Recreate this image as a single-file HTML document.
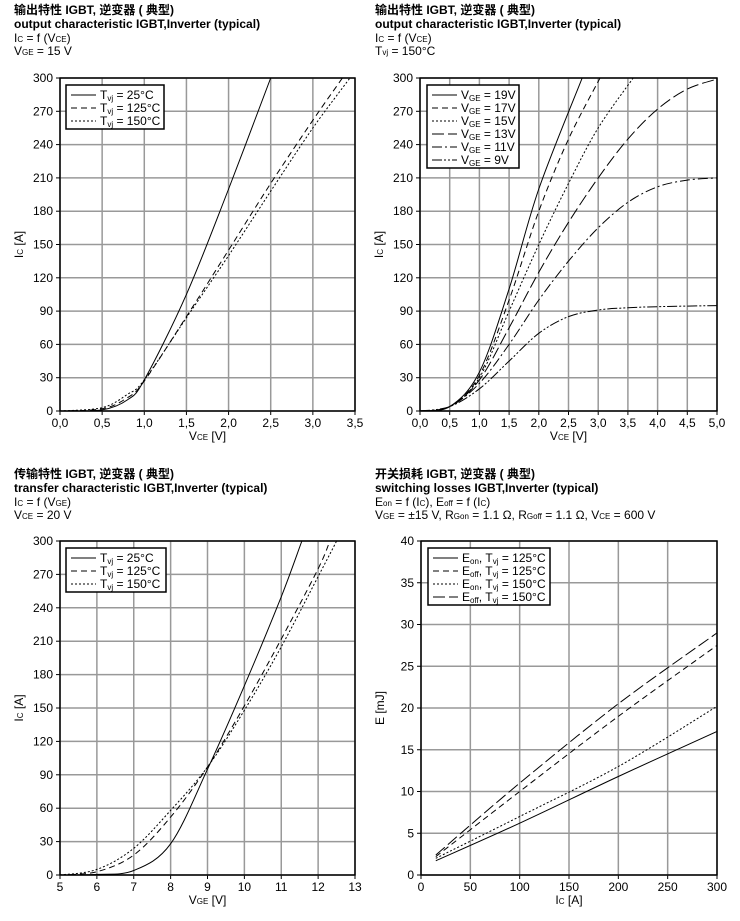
<!DOCTYPE html><html><head><meta charset="utf-8"><style>
body{margin:0;background:#fff;}
svg{display:block;font-family:"Liberation Sans","Noto Sans CJK SC",sans-serif;}
</style></head><body>
<svg id="s" width="740" height="921" xmlns="http://www.w3.org/2000/svg">
<g font-size="12" fill="#000">
<text x="14" y="14" font-weight="bold">输出特性 IGBT, 逆变器 ( 典型)</text>
<text x="14" y="28" font-weight="bold">output characteristic IGBT,Inverter (typical)</text>
<text x="14" y="42">I<tspan font-size="8">C</tspan> = f (V<tspan font-size="8">CE</tspan>)</text>
<text x="14" y="55">V<tspan font-size="8">GE</tspan> = 15 V</text>
<text x="375" y="14" font-weight="bold">输出特性 IGBT, 逆变器 ( 典型)</text>
<text x="375" y="28" font-weight="bold">output characteristic IGBT,Inverter (typical)</text>
<text x="375" y="42">I<tspan font-size="8">C</tspan> = f (V<tspan font-size="8">CE</tspan>)</text>
<text x="375" y="55">T<tspan font-size="8">vj</tspan> = 150°C</text>
<text x="14" y="478" font-weight="bold">传输特性 IGBT, 逆变器 ( 典型)</text>
<text x="14" y="492" font-weight="bold">transfer characteristic IGBT,Inverter (typical)</text>
<text x="14" y="506">I<tspan font-size="8">C</tspan> = f (V<tspan font-size="8">GE</tspan>)</text>
<text x="14" y="519">V<tspan font-size="8">CE</tspan> = 20 V</text>
<text x="375" y="478" font-weight="bold">开关损耗 IGBT, 逆变器 ( 典型)</text>
<text x="375" y="492" font-weight="bold">switching losses IGBT,Inverter (typical)</text>
<text x="375" y="506">E<tspan font-size="8">on</tspan> = f (I<tspan font-size="8">C</tspan>), E<tspan font-size="8">off</tspan> = f (I<tspan font-size="8">C</tspan>)</text>
<text x="375" y="519">V<tspan font-size="8">GE</tspan> = ±15 V, R<tspan font-size="8">Gon</tspan> = 1.1 Ω, R<tspan font-size="8">Goff</tspan> = 1.1 Ω, V<tspan font-size="8">CE</tspan> = 600 V</text>
</g>
<g id="g"></g>
</svg>
<script>
var g=document.getElementById('g'),h='';
function cr(pts,X,Y){var p=pts.map(function(a){return[X(a[0]),Y(a[1])]});var d='M'+p[0][0].toFixed(1)+' '+p[0][1].toFixed(1);
for(var i=0;i<p.length-1;i++){var p0=p[i-1]||p[i],p1=p[i],p2=p[i+1],p3=p[i+2]||p2;
d+=' C'+(p1[0]+(p2[0]-p0[0])/6).toFixed(1)+' '+(p1[1]+(p2[1]-p0[1])/6).toFixed(1)+' '+(p2[0]-(p3[0]-p1[0])/6).toFixed(1)+' '+(p2[1]-(p3[1]-p1[1])/6).toFixed(1)+' '+p2[0].toFixed(1)+' '+p2[1].toFixed(1);}return d;}
var D={s:'',d:'6,4',o:'2,2',l:'12,4',a:'10,3,2,3',b:'10,2,2,2,2,2'};
function chart(c){var X=function(v){return c.x0+(v-c.xa)/(c.xb-c.xa)*(c.x1-c.x0)},Y=function(v){return c.y1-(v-c.ya)/(c.yb-c.ya)*(c.y1-c.y0)};
h+='<clipPath id="c'+c.id+'"><rect x="'+c.x0+'" y="'+c.y0+'" width="'+(c.x1-c.x0)+'" height="'+(c.y1-c.y0)+'"/></clipPath>';
for(var i=0;i<=c.nx;i++){var x=c.x0+i*(c.x1-c.x0)/c.nx;h+='<line x1="'+x+'" y1="'+c.y0+'" x2="'+x+'" y2="'+c.y1+'" stroke="#999" stroke-width="1.5"/>';
h+='<line x1="'+x+'" y1="'+c.y1+'" x2="'+x+'" y2="'+(c.y1+4)+'" stroke="#000"/>';
h+='<text x="'+x+'" y="'+(c.y1+16)+'" font-size="12" text-anchor="middle">'+c.xl[i]+'</text>';}
for(var j=0;j<=c.ny;j++){var y=c.y1-j*(c.y1-c.y0)/c.ny;h+='<line x1="'+c.x0+'" y1="'+y+'" x2="'+c.x1+'" y2="'+y+'" stroke="#999" stroke-width="1.5"/>';
h+='<line x1="'+(c.x0-4)+'" y1="'+y+'" x2="'+c.x0+'" y2="'+y+'" stroke="#000"/>';
h+='<text x="'+(c.x0-7)+'" y="'+(y+4)+'" font-size="12" text-anchor="end">'+c.yl[j]+'</text>';}
h+='<rect x="'+c.x0+'" y="'+c.y0+'" width="'+(c.x1-c.x0)+'" height="'+(c.y1-c.y0)+'" fill="none" stroke="#000" stroke-width="1.5"/>';
c.s.forEach(function(s){h+='<path d="'+cr(s[1],X,Y)+'" fill="none" stroke="#000" stroke-width="1" stroke-dasharray="'+D[s[0]]+'" clip-path="url(#c'+c.id+')"/>';});
var L=c.lg;h+='<rect x="'+L[0]+'" y="'+L[1]+'" width="'+L[2]+'" height="'+(c.s.length*13+5)+'" fill="#fff" stroke="#000" stroke-width="1.5"/>';
c.s.forEach(function(s,k){var yy=L[1]+10+k*13;h+='<line x1="'+(L[0]+5)+'" y1="'+yy+'" x2="'+(L[0]+30)+'" y2="'+yy+'" stroke="#000" stroke-dasharray="'+D[s[0]]+'"/>';
h+='<text x="'+(L[0]+34)+'" y="'+(yy+4)+'" font-size="12">'+s[2]+'</text>';});
h+='<text x="'+((c.x0+c.x1)/2)+'" y="'+(c.y1+29)+'" font-size="12" text-anchor="middle">'+c.xt+'</text>';
h+='<text transform="translate('+(c.x0-37)+','+((c.y0+c.y1)/2)+') rotate(-90)" font-size="12" text-anchor="middle">'+c.yt+'</text>';}
function r(a,b,st,f){var o=[];for(var v=a;v<=b+1e-9;v+=st)o.push(f(v));return o;}
var T=function(t){return 'T<tspan font-size="8" dy="2">vj</tspan><tspan dy="-2"> = '+t+'</tspan>'};
var V=function(t){return 'V<tspan font-size="8" dy="2">GE</tspan><tspan dy="-2"> = '+t+'</tspan>'};
var yl300=r(0,300,30,function(v){return v});
chart({id:1,x0:60,x1:355,y0:78,y1:411,xa:0,xb:3.5,ya:0,yb:300,nx:7,ny:10,xl:['0,0','0,5','1,0','1,5','2,0','2,5','3,0','3,5'],yl:yl300,
xt:'V<tspan font-size="8">CE</tspan> [V]',yt:'I<tspan font-size="8">C</tspan> [A]',lg:[66,85,98],
s:[['s',[[0,0],[0.5,1],[0.8,10],[1,28],[1.5,105],[2,200],[2.5,300],[2.6,320]],T('25°C')],
['d',[[0,0],[0.5,2],[0.8,12],[1,27],[1.5,85],[2,145],[2.5,205],[3,262],[3.35,300],[3.45,312]],T('125°C')],
['o',[[0,0],[0.5,3],[0.8,15],[1,28],[1.5,84],[2,140],[2.5,198],[3,255],[3.44,300],[3.5,307]],T('150°C')]]});
chart({id:2,x0:420,x1:717,y0:78,y1:411,xa:0,xb:5,ya:0,yb:300,nx:10,ny:10,xl:['0,0','0,5','1,0','1,5','2,0','2,5','3,0','3,5','4,0','4,5','5,0'],yl:yl300,
xt:'V<tspan font-size="8">CE</tspan> [V]',yt:'I<tspan font-size="8">C</tspan> [A]',lg:[427,85,92],
s:[['s',[[0,0],[0.5,4],[1,35],[1.5,110],[2,200],[2.73,300],[2.8,310]],V('19V')],
['d',[[0,0],[0.5,4],[1,32],[1.5,100],[2,180],[2.5,245],[3.03,300],[3.1,308]],V('17V')],
['o',[[0,0],[0.5,4],[1,30],[1.5,90],[2,150],[2.5,205],[3,255],[3.59,300],[3.7,308]],V('15V')],
['l',[[0,0],[0.5,4],[1,28],[1.5,75],[2,125],[2.5,170],[3,210],[3.5,245],[4,272],[4.5,290],[5,299]],V('13V')],
['a',[[0,0],[0.5,4],[1,25],[1.5,60],[2,100],[2.5,135],[3,165],[3.5,188],[4,202],[4.5,208],[5,210]],V('11V')],
['b',[[0,0],[0.5,4],[1,20],[1.5,45],[2,70],[2.5,85],[3,91],[3.5,93],[4,94],[5,95]],V('9V')]]});
chart({id:3,x0:60,x1:355,y0:541,y1:875,xa:5,xb:13,ya:0,yb:300,nx:8,ny:10,xl:[5,6,7,8,9,10,11,12,13],yl:yl300,
xt:'V<tspan font-size="8">GE</tspan> [V]',yt:'I<tspan font-size="8">C</tspan> [A]',lg:[66,548,100],
s:[['s',[[5,0],[6,0.5],[7,4],[8,28],[9,95],[10,170],[11,250],[11.56,300],[11.7,312]],T('25°C')],
['d',[[5,0],[6,3],[7,18],[8,52],[9,97],[10,152],[11,212],[12,275],[12.32,300],[12.45,310]],T('125°C')],
['o',[[5,0],[6,5],[7,24],[8,58],[9,97],[10,148],[11,205],[12,268],[12.5,300],[12.6,308]],T('150°C')]]});
var E=function(a,b){return 'E<tspan font-size="8" dy="2">'+a+'</tspan><tspan dy="-2">, </tspan>'+'T<tspan font-size="8" dy="2">vj</tspan><tspan dy="-2"> = '+b+'</tspan>'};
chart({id:4,x0:421,x1:717,y0:541,y1:875,xa:0,xb:300,ya:0,yb:40,nx:6,ny:8,xl:[0,50,100,150,200,250,300],yl:[0,5,10,15,20,25,30,35,40],
xt:'I<tspan font-size="8">C</tspan> [A]',yt:'E [mJ]',lg:[428,548,122],
s:[['s',[[15,1.7],[100,6.2],[200,11.8],[300,17.2]],E('on','125°C')],
['d',[[15,2.2],[100,10],[200,19],[300,27.5]],E('off','125°C')],
['o',[[15,2],[100,7],[200,13],[300,20.2]],E('on','150°C')],
['l',[[15,2.4],[100,11],[200,20.5],[300,29]],E('off','150°C')]]});
g.innerHTML=h;
</script>
</body></html>
